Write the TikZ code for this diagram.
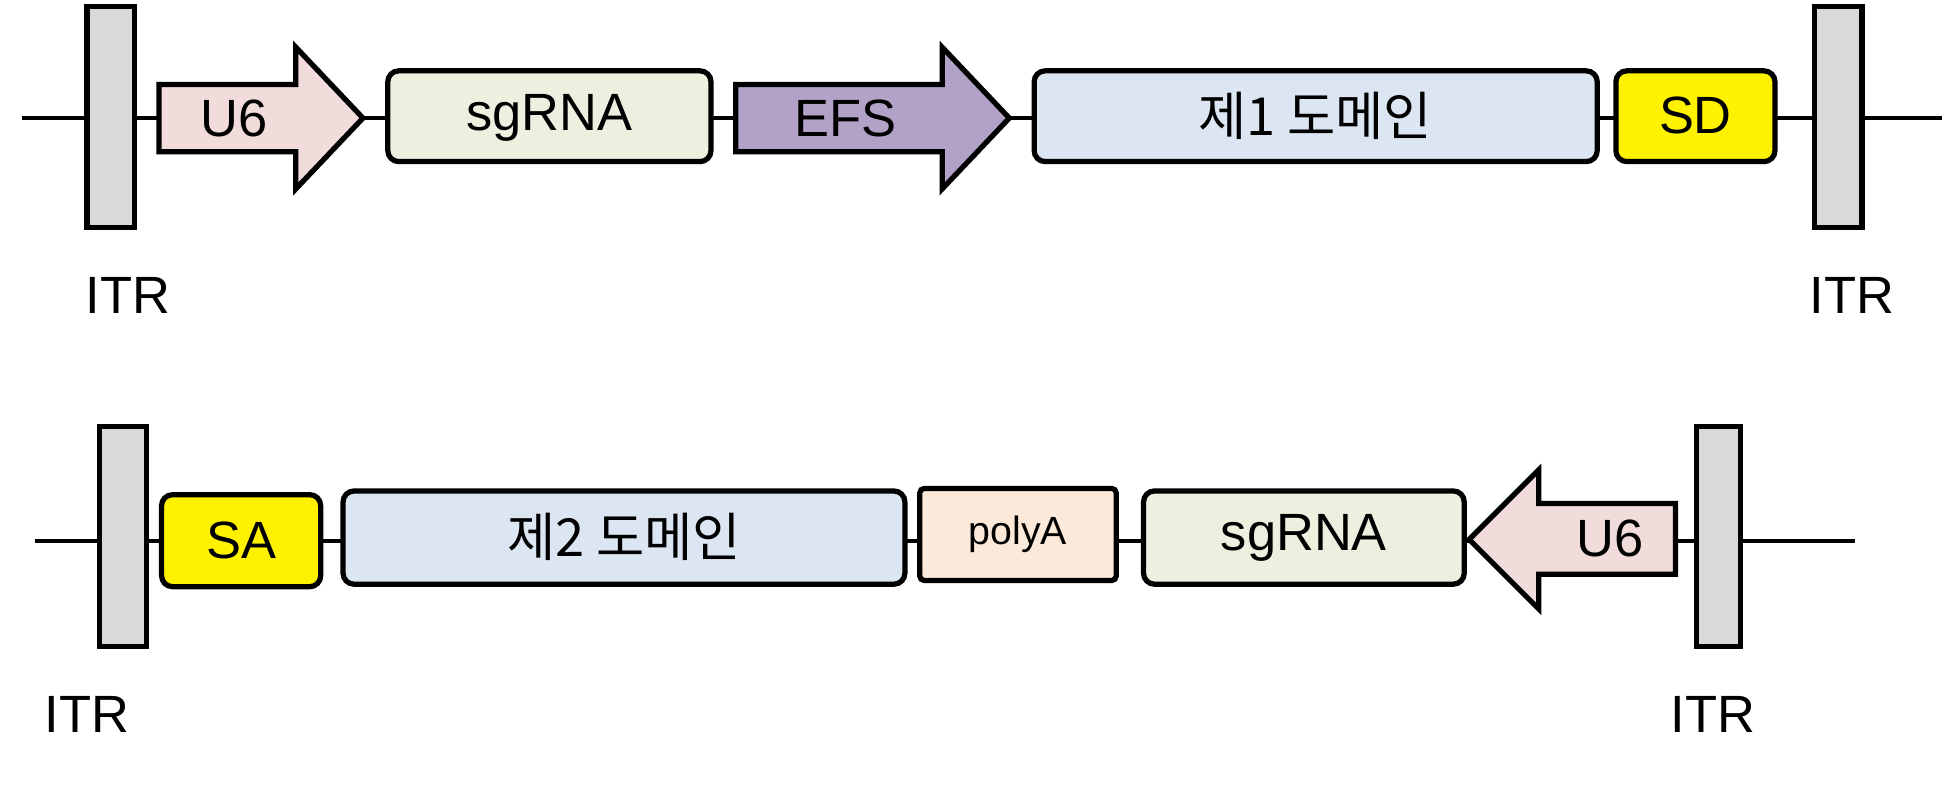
\documentclass[tikz,border=0pt]{standalone}
\usepackage{fontspec}
\setmainfont{Liberation Sans}
\newfontfamily\kr{Noto Sans CJK KR}
\begin{document}
\begin{tikzpicture}[x=0.01cm,y=-0.01cm,
 box/.style={draw=black,line width=1.2pt,rounded corners=2.5pt},
 itr/.style={draw=black,line width=1.2pt,fill=black!15},
 arr/.style={draw=black,line width=1.2pt,line join=miter},
 lab/.style={font=\fontsize{12}{14}\selectfont}]
\useasboundingbox (0,0) rectangle (1568,634);
% top row
\draw[line width=1pt] (18,95) -- (1562,95);
\draw[itr] (70,5) rectangle (108,183);
\draw[itr] (1460,5) rectangle (1498,183);
\node[lab] (itr1) at (103,238) {ITR};
\node[lab] (itr2) at (1490,238) {ITR};
\draw[arr,fill={rgb,255:red,242;green,220;blue,219}] (128,68) -- (238,68) -- (238,38) -- (292,95) -- (238,152) -- (238,122) -- (128,122) -- cycle;
\node[lab] (u6a) at (188,95) {U6};
\draw[box,fill={rgb,255:red,235;green,241;blue,222}] (312,57) rectangle (572,130);
\node[lab] (sg1) at (442,95) {sgRNA};
\draw[arr,fill={rgb,255:red,179;green,162;blue,199}] (592,68) -- (758,68) -- (758,38) -- (812,95) -- (758,152) -- (758,122) -- (592,122) -- cycle;
\node[lab] (efs) at (680,95) {EFS};
\draw[box,fill={rgb,255:red,220;green,230;blue,242}] (832,57) rectangle (1285,130);
\node[lab,font=\kr\fontsize{12}{14}\selectfont] (d1) at (1058,93) {제1 도메인};
\draw[box,fill=yellow] (1300,57) rectangle (1428,130);
\node[lab] (sd) at (1364,93) {SD};
% bottom row
\draw[line width=1pt] (28,435) -- (1492,435);
\draw[itr] (80,343) rectangle (118,520);
\draw[itr] (1365,343) rectangle (1400,520);
\node[lab] (itr3) at (70,575) {ITR};
\node[lab] (itr4) at (1378,575) {ITR};
\draw[box,fill=yellow] (130,398) rectangle (258,472);
\node[lab] (sa) at (194,435) {SA};
\draw[box,fill={rgb,255:red,220;green,230;blue,242}] (276,395) rectangle (728,470);
\node[lab,font=\kr\fontsize{12}{14}\selectfont] (d2) at (502,432) {제2 도메인};
\draw[box,rounded corners=1pt,fill={rgb,255:red,253;green,233;blue,217}] (740,393) rectangle (898,467);
\node[font=\fontsize{9}{11}\selectfont] (pa) at (819,430) {polyA};
\draw[box,fill={rgb,255:red,235;green,241;blue,222}] (920,395) rectangle (1178,470);
\node[lab] (sg2) at (1049,433) {sgRNA};
\draw[arr,fill={rgb,255:red,242;green,220;blue,219}] (1348,405) -- (1238,405) -- (1238,378) -- (1182,434) -- (1238,490) -- (1238,462) -- (1348,462) -- cycle;
\node[lab] (u6b) at (1295,433) {U6};
\end{tikzpicture}
\end{document}
